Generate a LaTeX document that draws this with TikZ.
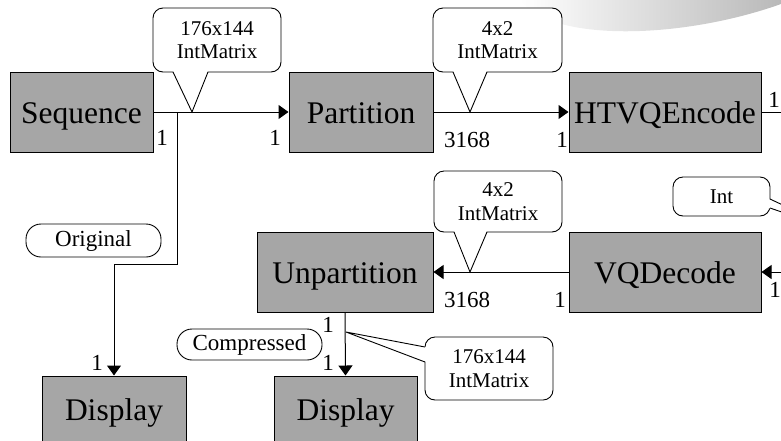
\documentclass[tikz,border=0pt]{standalone}
\usepackage{fontspec}
\setmainfont{Liberation Serif}
\usetikzlibrary{arrows.meta,calc}

\definecolor{blockgray}{RGB}{166,166,166}

\tikzset{
    block/.style={draw, fill=blockgray, line width=1pt, inner sep=0pt,
        text height=22pt, text depth=0pt, font=\fontsize{31.5}{34}\selectfont},
    flow/.style={line width=1pt, -{Triangle[length=10pt,width=14pt]}},
    note/.style={draw, fill=white, rounded corners=10pt, line width=0.9pt,
        align=center, inner sep=0pt, font=\fontsize{21}{23.5}\selectfont},
    tag/.style={draw, rounded corners=15pt, line width=0.9pt, inner sep=0pt,
        font=\fontsize{23}{25}\selectfont},
    port/.style={inner sep=0pt, font=\fontsize{23}{25}\selectfont},
}

\begin{document}
\begin{tikzpicture}[x=1pt, y=-1pt]
    \useasboundingbox (0,0) rectangle (781,440);
    \clip (0,0) rectangle (781,440);

    % Slide decoration in the corner
    \shade[left color=white, right color=gray!55]
        (520,0) .. controls (550,42) and (680,40) .. (781,4) -- (781,0) -- cycle;

    % Draw the blocks
    \node[block, minimum width=143pt, minimum height=80pt] (seq) at (81.5,112) {Sequence};
    \node[block, minimum width=144pt, minimum height=80pt] (part) at (361,112) {Partition};
    \node[block, minimum width=192pt, minimum height=80pt] (htvq) at (665,112) {HTVQEncode};
    \node[block, minimum width=176pt, minimum height=80pt] (unpart) at (345,272) {Unpartition};
    \node[block, minimum width=192pt, minimum height=80pt] (vqdec) at (665,272) {VQDecode};
    \node[block, minimum width=144pt, minimum height=66pt] (disp1) at (114,409) {Display};
    \node[block, minimum width=143pt, minimum height=66pt] (disp2) at (345.5,409) {Display};

    % Free ends and bends
    \coordinate (split) at (177,112);
    \coordinate (bend) at (177,264);
    \coordinate (encout) at (781,112);
    \coordinate (decin) at (781,272);

    % Add the connections
    \draw[flow] (seq.east) -- (part.west);
    \draw[flow] (split) -- (bend) -| (disp1.north);
    \draw[flow] (part.east) -- (htvq.west);
    \draw[line width=1pt] (htvq.east) -- (encout);
    \draw[flow] (decin) -- (vqdec.east);
    \draw[flow] (vqdec.west) -- (unpart.east);
    \draw[flow] (unpart.south) -- (disp2.north);

    % Port numbers
    \node[port] (seqout) at (162,138) {1};
    \node[port] (partin) at (275,138) {1};
    \node[port] (partout) at (467,140) {3168};
    \node[port] (htvqin) at (562,140) {1};
    \node[port] (htvqout) at (774,100) {1};
    \node[port] (unpartin) at (467,300) {3168};
    \node[port] (vqdecout) at (560,300) {1};
    \node[port] (vqdecin) at (775,290) {1};
    \node[port] (disp1in) at (97,363) {1};
    \node[port] (unpartout) at (328,325) {1};
    \node[port] (disp2in) at (328,363) {1};

    % Stream names
    \node[tag, minimum width=135pt, minimum height=33pt] (orig) at (93.5,240.5) {Original};
    \node[tag, minimum width=145pt, minimum height=31pt] (comp) at (249.5,344.5) {Compressed};

    % Type callouts
    \node[note, minimum width=128pt, minimum height=64pt] (type1) at (217,40) {176x144\\IntMatrix};
    \node[note, minimum width=129pt, minimum height=64pt] (type2) at (497.5,40) {4x2\\IntMatrix};
    \node[note, minimum width=128pt, minimum height=61pt] (type3) at (498,201.5) {4x2\\IntMatrix};
    \node[note, minimum width=97pt, minimum height=39pt] (type4) at (721.5,196.5) {Int};
    \node[note, minimum width=128pt, minimum height=63pt] (type5) at (489,368.5) {176x144\\IntMatrix};

    % Callout tails
    \coordinate (tip1) at (192,112);
    \coordinate (tip2) at (470,112);
    \coordinate (tip3) at (470,272);
    \coordinate (tip4) at (840,232);
    \coordinate (tip5) at (346,332);

    \fill[white] (173,70.5) -- (tip1) -- (208,70.5) -- cycle;
    \draw[line width=0.9pt] (173,72) -- (tip1) -- (208,72);
    \fill[white] (453,70.5) -- (tip2) -- (487,70.5) -- cycle;
    \draw[line width=0.9pt] (453,72) -- (tip2) -- (487,72);
    \fill[white] (454,230.5) -- (tip3) -- (487,230.5) -- cycle;
    \draw[line width=0.9pt] (454,232) -- (tip3) -- (487,232);
    \fill[white] (768.5,199) -- (tip4) -- (768.5,208) -- cycle;
    \draw[line width=0.9pt] (770,199) -- (tip4) -- (770,208);
    \fill[white] (426.5,347) -- (tip5) -- (426.5,362) -- cycle;
    \draw[line width=0.9pt] (425,347) -- (tip5) -- (425,362);
\end{tikzpicture}
\end{document}
